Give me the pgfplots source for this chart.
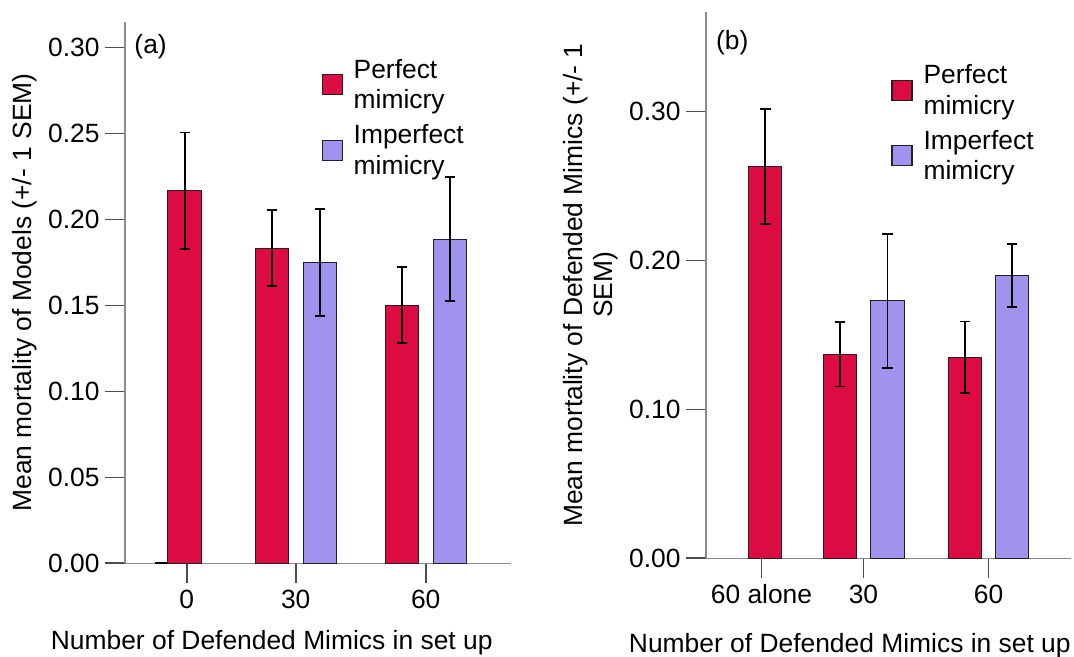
\documentclass[border=0pt]{standalone}
\usepackage{fontspec}
\setmainfont{Liberation Sans}
\usepackage{pgfplots}
\pgfplotsset{compat=1.18}
\definecolor{redbar}{HTML}{DC0C43}
\definecolor{bluebar}{HTML}{A093EE}
\definecolor{axgray}{HTML}{8C8C8C}
\definecolor{tickgray}{HTML}{4D4D4D}
\definecolor{edge}{HTML}{2B1E22}
\pgfplotsset{
 /pgfplots/ybar legend/.style={/pgfplots/legend image code/.code={%
   \draw[##1, line width=0.6pt] (0pt,-9pt) rectangle (10pt,1pt);
   \path (15.5pt,0pt);}},
 myaxis/.style={
  scale only axis,
  anchor=south west,
  ybar, bar shift=0pt,
  axis x line*=bottom, axis y line*=left,
  axis line style={axgray, line width=0.6pt, -},
  tick align=outside,
  major tick length=10pt,
  tick style={tickgray, line width=0.8pt},
  font=\fontsize{13.2}{15.2}\selectfont,
  ymin=0,
  enlargelimits=false,
  clip=false,
  legend cell align=left,
  legend style={draw=none, fill=none, inner sep=0pt, outer sep=0pt, row sep=13.1pt,
    nodes={inner sep=0pt}},
  error bars/error bar style={black, line width=0.9pt},
  error bars/error mark options={rotate=90, mark size=2.6pt, line width=0.9pt, black},
  yticklabel style={anchor=east, inner sep=0pt, xshift=-2.5pt},
  xticklabel style={anchor=north, inner sep=0pt, yshift=-3pt},
 },
}
\begin{document}
\begin{tikzpicture}
\path[use as bounding box] (0pt,0pt) rectangle (537pt,328.5pt);
% ---------- panel (a)
\begin{axis}[myaxis,
  at={(62.5pt,46.85pt)}, width=192.85pt, height=270.8pt,
  xmin=125, xmax=510.7, ymax=0.315,
  bar width=33.5,
  xtick={186.7,295.7,425.7}, xticklabels={0,30,60},
  ytick={0,0.05,0.10,0.15,0.20,0.25,0.30},
  yticklabels={0.00,0.05,0.10,0.15,0.20,0.25,0.30},
  ylabel={Mean mortality of Models (+/- 1 SEM)},
  ylabel style={at={([xshift=-50.4pt]axis description cs:0,0.5)}, anchor=center},
  xlabel={Number of Defended Mimics in set up},
  xlabel style={at={(axis description cs:0.3804,-0.1472)}, anchor=center},
  legend style={at={(axis description cs:0.5097,0.935)}, anchor=north west},
]
\addplot[fill=redbar, draw=edge, line width=0.5pt, bar shift=0pt,
  error bars/.cd, y dir=both, y explicit]
  coordinates {(184.7,0.2166) +- (0,0.034) (272,0.1833) +- (0,0.0222) (402,0.1501) +- (0,0.022)};
\addlegendentry{\begin{tabular}{@{}l@{}}Perfect\\mimicry\end{tabular}}
\addplot[fill=bluebar, draw=edge, line width=0.5pt, bar shift=0pt,
  error bars/.cd, y dir=both, y explicit]
  coordinates {(320.2,0.1749) +- (0,0.0313) (450.2,0.1885) +- (0,0.036)};
\addlegendentry{\begin{tabular}{@{}l@{}}Imperfect\\mimicry\end{tabular}}
\addplot[sharp plot, black, line width=0.9pt, forget plot] coordinates {(155,0) (168,0)};
\node at (axis description cs:0.0664,0.954) {(a)};
\end{axis}
% ---------- panel (b)
\begin{axis}[myaxis,
  at={(353pt,49.35pt)}, width=178.7pt, height=273.3pt,
  xmin=706, xmax=1063.4, ymax=0.367,
  bar width=32.5,
  xtick={760.4,860.4,983}, xticklabels={60 alone,30,60},
  ytick={0,0.1,0.2,0.3},
  yticklabels={0.00,0.10,0.20,0.30},
  ylabel={Mean mortality of Defended Mimics (+/- 1\\SEM)},
  ylabel style={at={([xshift=-57.75pt]axis description cs:0,0.5)}, anchor=center, align=center},
  xlabel={Number of Defended Mimics in set up},
  xlabel style={at={(axis description cs:0.3945,-0.16)}, anchor=center},
  legend style={at={(axis description cs:0.5087,0.907)}, anchor=north west},
]
\addplot[fill=redbar, draw=edge, line width=0.5pt, bar shift=0pt,
  error bars/.cd, y dir=both, y explicit]
  coordinates {(764.2,0.2633) +- (0,0.0386) (837.5,0.137) +- (0,0.0217) (959.9,0.135) +- (0,0.024)};
\addlegendentry{\begin{tabular}{@{}l@{}}Perfect\\mimicry\end{tabular}}
\addplot[fill=bluebar, draw=edge, line width=0.5pt, bar shift=0pt,
  error bars/.cd, y dir=both, y explicit]
  coordinates {(883.9,0.173) +- (0,0.045) (1006.2,0.1898) +- (0,0.0213)};
\addlegendentry{\begin{tabular}{@{}l@{}}Imperfect\\mimicry\end{tabular}}
\node at (axis description cs:0.0719,0.943) {(b)};
\end{axis}
\end{tikzpicture}
\end{document}
